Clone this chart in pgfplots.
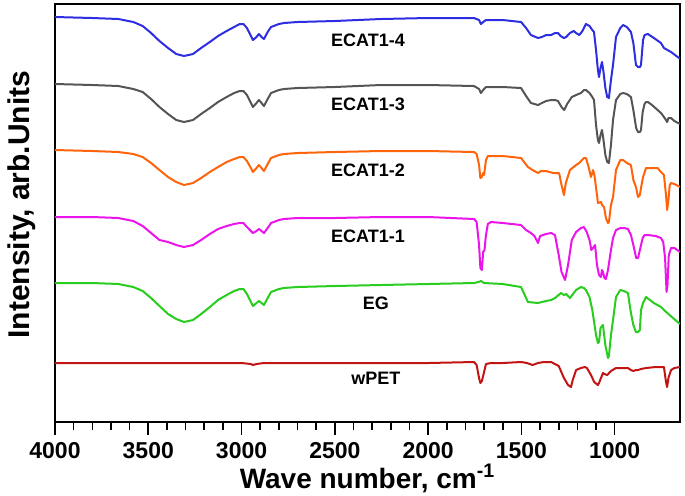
\documentclass[border=0pt]{standalone}
\usepackage{pgfplots}
\pgfplotsset{compat=1.18}
\usepackage{fontspec}
\setmainfont{Liberation Sans}
\definecolor{cblue}{RGB}{45,45,225}
\definecolor{cgray}{RGB}{85,85,85}
\definecolor{corange}{RGB}{255,100,10}
\definecolor{cmag}{RGB}{235,20,235}
\definecolor{cgreen}{RGB}{40,205,30}
\definecolor{cred}{RGB}{195,20,20}
\begin{document}
\begin{tikzpicture}
\begin{axis}[
  scale only axis, width=312.5pt, height=209pt,
  x dir=reverse, y dir=reverse,
  xmin=650, xmax=4000, ymin=4, ymax=422,
  axis line style={line width=1pt},
  xtick={1000,1500,2000,2500,3000,3500,4000},
  minor x tick num=4,
  ytick=\empty,
  xtick pos=bottom, tick align=outside,
  major tick length=6.5pt, minor tick length=4pt,
  every tick/.style={black, line width=0.8pt},
  /pgf/number format/assume math mode=true,
  /pgf/number format/1000 sep={},
  ticklabel style={font=\fontsize{11.5}{13}\selectfont\bfseries},
  xlabel={Wave number, cm\textsuperscript{-1}},
  xlabel style={font=\fontsize{14}{16}\selectfont\bfseries, at={(axis description cs:0.5,-0.135)}, anchor=center},
  ylabel={Intensity, arb.Units},
  ylabel style={font=\fontsize{15}{17}\selectfont\bfseries, at={(axis description cs:-0.053,0.52)}, anchor=center},
  every axis plot/.append style={line width=1pt, line join=round},
]
% ECAT1-4
\addplot[cblue] table {
4000 17
3800 18
3660 19
3580 22
3530 26
3485 33
3440 41
3394 48
3350 54
3309 56
3260 54
3217 48
3170 42
3126 36
3080 31
3040 27
3010 24
2990 24
2971 28
2950 36
2939 40
2920 37
2907 34
2893 37
2880 39
2860 32
2842 27
2800 24
2773 23
2700 22
2500 21
2253 19
2000 18
1754 18
1727 20
1717 24
1705 22
1690 20
1600 20
1502 22
1475 28
1449 35
1411 38
1390 37
1368 35
1341 35
1320 33
1304 33
1290 36
1272 38
1260 37
1240 33
1220 31
1207 33
1190 35
1181 33
1170 30
1154 24
1135 26
1120 30
1111 32
1100 50
1090 70
1084 77
1076 68
1068 62
1060 72
1050 88
1040 97
1031 98
1020 80
1009 65
993 37
970 28
955 25
935 27
913 32
900 43
886 65
875 67
865 67
859 65
848 40
840 35
822 34
790 38
752 43
736 48
698 52
655 58
650 59
};
% ECAT1-3
\addplot[cgray] table {
4000 84
3800 85
3660 86
3580 89
3530 92
3485 99
3440 107
3394 114
3350 120
3309 122
3260 120
3217 114
3170 108
3126 102
3080 97
3040 93
3010 91
2990 91
2971 95
2950 103
2939 107
2920 103
2907 100
2893 103
2880 106
2860 99
2842 93
2800 90
2773 89
2700 88
2500 87
2253 85
2000 85
1754 86
1727 89
1717 93
1705 90
1690 87
1600 87
1502 88
1475 96
1449 103
1411 105
1390 103
1368 101
1341 100
1320 100
1304 101
1285 107
1271 110
1255 104
1230 97
1207 95
1181 93
1165 90
1154 90
1135 93
1120 97
1111 100
1100 125
1090 140
1084 143
1076 135
1068 130
1060 140
1050 155
1040 162
1031 163
1020 145
1009 120
993 100
970 94
955 93
935 94
913 97
900 110
885 128
875 132
865 132
859 130
850 112
840 104
832 102
822 102
800 105
770 110
752 113
736 117
725 120
719 122
712 118
698 118
680 121
650 124
};
% ECAT1-2
\addplot[corange] table {
4000 150
3800 151
3660 152
3580 154
3530 157
3485 163
3440 170
3394 177
3350 182
3309 185
3260 183
3217 178
3170 172
3126 167
3080 162
3040 159
3010 157
2990 157
2971 161
2950 168
2939 172
2920 168
2907 165
2893 168
2880 171
2860 164
2842 158
2800 155
2773 154
2700 153
2500 152
2253 151
2000 151
1754 152
1740 154
1727 165
1720 178
1712 177
1705 173
1700 175
1690 160
1680 156
1600 156
1502 158
1465 167
1440 170
1411 173
1395 171
1368 171
1330 173
1298 173
1285 185
1272 195
1262 183
1240 170
1207 165
1190 163
1165 158
1154 158
1140 167
1127 177
1116 170
1108 176
1095 195
1090 203
1073 202
1068 205
1057 207
1047 218
1036 223
1031 222
1020 205
1009 197
993 170
970 160
955 160
935 163
913 165
900 180
886 187
875 197
865 195
859 188
848 177
832 168
800 168
770 168
752 172
736 175
725 195
719 210
712 200
705 185
698 183
680 184
650 187
};
% ECAT1-1
\addplot[cmag] table {
4000 217
3800 217
3660 218
3580 221
3530 226
3485 233
3440 240
3394 242
3350 245
3309 247
3260 245
3217 240
3170 234
3126 229
3080 226
3040 224
3010 223
2990 223
2971 227
2950 231
2939 233
2920 231
2907 229
2893 231
2880 233
2860 228
2842 223
2800 220
2773 219
2700 218
2500 218
2253 217
2000 217
1754 219
1740 222
1727 245
1720 268
1712 270
1705 252
1698 250
1690 235
1680 224
1663 222
1600 223
1502 225
1475 230
1449 233
1430 236
1411 243
1400 236
1368 234
1341 233
1320 235
1300 255
1285 272
1266 280
1250 265
1230 240
1207 232
1181 228
1165 227
1150 232
1135 240
1125 250
1116 248
1105 245
1095 265
1084 275
1074 277
1068 270
1063 272
1055 278
1047 279
1036 270
1020 250
1009 238
993 230
970 228
950 228
929 229
913 235
900 245
885 258
875 258
865 250
850 238
840 235
822 235
780 236
752 238
740 242
730 258
722 292
717 285
710 255
698 248
680 248
650 252
};
% EG
\addplot[cgreen] table {
4000 283
3800 283
3660 284
3580 287
3530 291
3485 298
3440 306
3394 314
3350 319
3309 322
3260 320
3217 314
3170 307
3126 300
3080 295
3040 291
3010 289
2990 289
2971 294
2950 302
2939 306
2920 303
2907 301
2893 303
2880 305
2860 298
2842 292
2800 289
2773 288
2700 287
2500 286
2253 285
2000 284
1754 283
1730 282
1717 281
1700 283
1600 284
1502 287
1465 302
1411 303
1368 301
1341 300
1320 298
1288 293
1272 295
1260 294
1240 298
1207 290
1181 287
1165 288
1154 290
1135 297
1120 310
1100 335
1090 343
1084 342
1076 328
1063 325
1050 345
1036 358
1031 356
1020 335
1009 320
993 297
970 290
950 291
929 293
913 313
900 325
886 332
875 332
865 330
859 310
848 303
832 297
790 303
752 307
736 310
700 316
650 324
};
% wPET
\addplot[cred] table {
4000 363
3000 363
2950 364
2939 365
2920 364
2880 363
2000 363
1754 362
1740 365
1727 378
1720 383
1712 381
1700 372
1690 364
1663 363
1600 363
1502 362
1470 363
1440 365
1411 363
1380 362
1341 362
1300 366
1272 378
1250 385
1234 387
1225 380
1207 370
1181 368
1160 367
1149 368
1127 375
1110 382
1090 385
1084 383
1063 373
1055 374
1040 375
1020 371
993 368
955 368
929 368
913 370
900 371
886 370
875 370
859 369
832 368
780 367
752 367
736 367
725 382
719 387
712 378
698 370
680 368
650 367
};
\node[font=\fontsize{9}{10}\selectfont\bfseries] at (axis cs:2322,40) {ECAT1-4};
\node[font=\fontsize{9}{10}\selectfont\bfseries] at (axis cs:2322,104) {ECAT1-3};
\node[font=\fontsize{9}{10}\selectfont\bfseries] at (axis cs:2322,170) {ECAT1-2};
\node[font=\fontsize{9}{10}\selectfont\bfseries] at (axis cs:2322,236) {ECAT1-1};
\node[font=\fontsize{9}{10}\selectfont\bfseries] at (axis cs:2280,303) {EG};
\node[font=\fontsize{9}{10}\selectfont\bfseries] at (axis cs:2280,378) {wPET};
\end{axis}
\pgfresetboundingbox
\path[use as bounding box] (current axis.south west) ++(-27.5pt,-36.5pt) rectangle ([shift={(2.5pt,2pt)}]current axis.north east);
\end{tikzpicture}
\end{document}
